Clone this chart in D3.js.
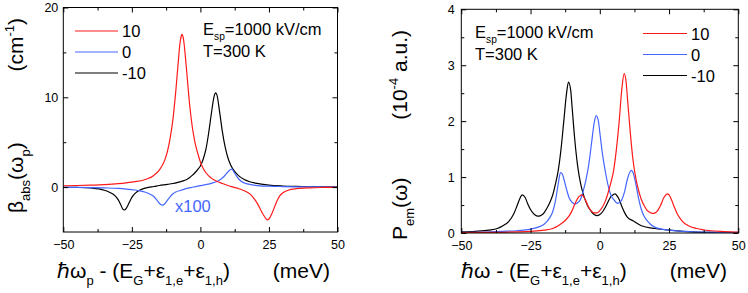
<!DOCTYPE html>
<html><head><meta charset="utf-8">
<script src="https://cdn.jsdelivr.net/npm/d3@7"></script>
<style>
body{margin:0;background:#fff}
svg{display:block}
text{font-family:Arial,"Liberation Sans",Helvetica,sans-serif;fill:#000}
</style>
</head><body>
<svg id="c" width="748" height="293"></svg>
<script>
// ---------- data ----------
const seriesLabels = ["10", "0", "-10"];
const xTickValues = [-50, -25, 0, 25, 50];
const xMinorTickValues = [-37.5, -12.5, 12.5, 37.5];
const absYTickValues = [0, 10, 20];
const absYMinorTickValues = [5, 15];
const emYTickValues = [0, 1, 2, 3, 4];
const emYMinorTickValues = [0.5, 1.5, 2.5, 3.5];

// Absorption beta_abs (cm^-1); series "0" is shown x100
const absRed = [[-50,0.15],[-45,0.18],[-40,0.22],[-35,0.28],[-30,0.38],[-25,0.55],[-20,0.85],[-17,1.3],[-15,1.9],[-13,3.0],[-12,4.0],[-11,5.5],[-10,7.6],[-9,10.6],[-8,14.2],[-7.5,15.9],[-7,16.8],[-6.7,17.0],[-6.3,16.7],[-6,16.1],[-5.5,14.6],[-5,12.9],[-4,9.4],[-3,6.8],[-2,5.0],[-1,3.8],[0,2.8],[1,2.1],[2,1.6],[4,1.0],[6,0.65],[8,0.4],[10,0.18],[12,0.0],[14,-0.18],[16,-0.4],[18,-0.75],[19,-1.05],[20,-1.45],[21,-1.95],[22,-2.55],[23,-3.1],[24,-3.55],[24.5,-3.65],[25,-3.55],[26,-3.0],[27,-2.25],[28,-1.5],[29,-0.95],[30,-0.65],[32,-0.35],[35,-0.18],[40,-0.08],[45,-0.04],[50,-0.02]];
const absBlue = [[-50,-0.02],[-45,-0.03],[-40,-0.05],[-35,-0.09],[-30,-0.15],[-27,-0.22],[-24,-0.32],[-22,-0.42],[-20,-0.58],[-18,-0.85],[-17,-1.05],[-16,-1.4],[-15,-1.8],[-14,-2.0],[-13,-1.85],[-12,-1.45],[-11,-1.05],[-10,-0.75],[-9,-0.55],[-7,-0.35],[-5,-0.15],[-3,-0.02],[-1,0.1],[0,0.16],[2,0.28],[4,0.42],[6,0.62],[7,0.78],[8,1.02],[9,1.32],[10,1.68],[11,1.95],[11.5,2.0],[12,1.8],[13,1.3],[14,0.9],[15,0.62],[16,0.46],[18,0.3],[20,0.2],[25,0.1],[30,0.06],[40,0.03],[50,0.01]];
const absBlack = [[-50,-0.02],[-45,-0.04],[-40,-0.1],[-37,-0.2],[-35,-0.35],[-33,-0.6],[-31,-1.0],[-30,-1.4],[-29,-2.0],[-28.3,-2.45],[-27.7,-2.55],[-27,-2.35],[-26,-1.75],[-25,-1.15],[-24,-0.75],[-23,-0.5],[-21,-0.2],[-19,-0.03],[-17,0.07],[-15,0.18],[-12,0.3],[-10,0.4],[-8,0.55],[-6,0.72],[-5,0.85],[-4,1.05],[-3,1.3],[-2,1.6],[-1,1.95],[0,2.35],[1,3.1],[2,4.2],[3,6.0],[4,8.2],[5,10.1],[5.5,10.5],[6,10.3],[7,8.4],[8,6.2],[9,4.5],[10,3.3],[11,2.5],[12,1.95],[14,1.25],[16,0.85],[18,0.6],[20,0.45],[25,0.22],[30,0.12],[35,0.07],[40,0.04],[50,0.02]];

// Emission P_em (10^-4 a.u.)
const emRed = [[-50,0.005],[-40,0.01],[-30,0.02],[-25,0.03],[-20,0.05],[-17,0.08],[-15,0.13],[-13,0.2],[-12,0.25],[-11,0.31],[-10,0.4],[-9,0.52],[-8,0.62],[-7,0.67],[-6.5,0.68],[-6,0.66],[-5,0.57],[-4,0.46],[-3,0.39],[-2,0.36],[-1,0.36],[0,0.4],[1,0.47],[2,0.57],[3,0.72],[4,0.9],[5,1.12],[6,1.5],[7,2.0],[8,2.6],[8.8,2.85],[9.5,2.7],[10,2.4],[11,1.8],[12,1.3],[13,0.98],[14,0.76],[15,0.6],[16,0.49],[17,0.41],[18,0.37],[19,0.35],[20,0.36],[21,0.41],[22,0.5],[23,0.62],[24,0.69],[24.5,0.7],[25,0.68],[26,0.58],[27,0.45],[28,0.34],[29,0.26],[30,0.2],[32,0.13],[35,0.08],[40,0.04],[45,0.025],[50,0.015]];
const emBlue = [[-50,0.01],[-40,0.02],[-35,0.03],[-30,0.04],[-25,0.07],[-22,0.11],[-20,0.16],[-18,0.28],[-17,0.38],[-16,0.58],[-15,0.88],[-14.2,1.08],[-13.5,1.05],[-13,0.97],[-12,0.78],[-11,0.62],[-10,0.55],[-9,0.52],[-8,0.54],[-7,0.6],[-6,0.75],[-5,0.95],[-4,1.22],[-3,1.6],[-2,1.98],[-1.3,2.1],[-0.5,2.0],[0,1.8],[1,1.4],[2,1.1],[3,0.85],[4,0.68],[5,0.6],[6,0.54],[6.5,0.53],[7,0.54],[8,0.6],[9,0.75],[10,0.97],[11,1.1],[11.5,1.12],[12,1.08],[13,0.88],[14,0.62],[15,0.42],[16,0.3],[18,0.17],[20,0.1],[25,0.05],[30,0.03],[40,0.015],[50,0.01]];
const emBlack = [[-50,0.02],[-45,0.03],[-40,0.05],[-37,0.08],[-35,0.13],[-33,0.2],[-31,0.35],[-30,0.47],[-29,0.6],[-28,0.68],[-27,0.64],[-26,0.52],[-25,0.42],[-24,0.35],[-23,0.31],[-22,0.3],[-21,0.32],[-20,0.37],[-19,0.45],[-18,0.55],[-17,0.68],[-16,0.88],[-15,1.12],[-14,1.5],[-13,2.0],[-12,2.5],[-11.3,2.7],[-10.5,2.55],[-10,2.25],[-9,1.65],[-8,1.2],[-7,0.9],[-6,0.7],[-5,0.56],[-4,0.45],[-3,0.38],[-2,0.33],[-1,0.31],[0,0.33],[1,0.38],[2,0.46],[3,0.56],[4,0.65],[5,0.69],[5.5,0.7],[6,0.68],[7,0.6],[8,0.47],[9,0.36],[10,0.28],[12,0.22],[15,0.13],[20,0.08],[25,0.05],[30,0.03],[40,0.01],[50,0.005]];

// ---------- styles ----------
const colors = {"10": "#ff1a1a", "0": "#4466ff", "-10": "#000000"};
const svg = d3.select("#c");

function rich(sel, parts, size) {
  let shift = 0;
  parts.forEach(([s, k]) => {
    const target = k === "sub" ? size * 0.32 : k === "sup" ? -size * 0.42 : 0;
    sel.append("tspan").attr("dy", target - shift)
      .attr("font-size", k === "n" ? size : size * 0.62).text(s);
    shift = target;
  });
}

function panel(cfg) {
  const x = d3.scaleLinear().domain([-50, 50]).range([cfg.left, cfg.right]);
  const y = d3.scaleLinear().domain(cfg.yDomain).range([cfg.bottom, cfg.top]);
  const g = svg.append("g");
  const clipId = "clip" + cfg.id;
  svg.append("clipPath").attr("id", clipId).append("rect")
    .attr("x", cfg.left).attr("y", cfg.top)
    .attr("width", cfg.right - cfg.left).attr("height", cfg.bottom - cfg.top);

  const line = d3.line().x(d => x(d[0])).y(d => y(d[1])).curve(d3.curveMonotoneX);
  const cg = g.append("g").attr("clip-path", `url(#${clipId})`);
  cfg.series.forEach(s => {
    cg.append("path").datum(s.data).attr("d", line)
      .attr("fill", "none").attr("stroke", colors[s.name]).attr("stroke-width", 1.2);
  });

  function styleAxis(a) {
    a.select(".domain").remove();
    a.selectAll("line").attr("stroke", "#000");
    a.selectAll("text").attr("font-size", 12.5).attr("font-family", "Arial, 'Liberation Sans', sans-serif");
  }
  // bottom
  g.append("g").attr("transform", `translate(0,${cfg.bottom})`)
    .call(d3.axisBottom(x).tickValues(xTickValues).tickSize(-5).tickPadding(8.5).tickFormat(d3.format("d")))
    .call(styleAxis);
  g.append("g").attr("transform", `translate(0,${cfg.bottom})`)
    .call(d3.axisBottom(x).tickValues(xMinorTickValues).tickSize(-3).tickFormat(""))
    .call(styleAxis);
  // top
  g.append("g").attr("transform", `translate(0,${cfg.top})`)
    .call(d3.axisTop(x).tickValues(xTickValues).tickSize(-5).tickFormat(""))
    .call(styleAxis);
  g.append("g").attr("transform", `translate(0,${cfg.top})`)
    .call(d3.axisTop(x).tickValues(xMinorTickValues).tickSize(-3).tickFormat(""))
    .call(styleAxis);
  // left
  g.append("g").attr("transform", `translate(${cfg.left},0)`)
    .call(d3.axisLeft(y).tickValues(cfg.yTicks).tickSize(-5).tickPadding(cfg.yPad).tickFormat(d3.format("d")))
    .call(styleAxis);
  g.append("g").attr("transform", `translate(${cfg.left},0)`)
    .call(d3.axisLeft(y).tickValues(cfg.yMinor).tickSize(-3).tickFormat(""))
    .call(styleAxis);
  // right
  g.append("g").attr("transform", `translate(${cfg.right},0)`)
    .call(d3.axisRight(y).tickValues(cfg.yTicks).tickSize(-5).tickFormat(""))
    .call(styleAxis);
  g.append("g").attr("transform", `translate(${cfg.right},0)`)
    .call(d3.axisRight(y).tickValues(cfg.yMinor).tickSize(-3).tickFormat(""))
    .call(styleAxis);
  // frame
  g.append("rect").attr("x", cfg.left).attr("y", cfg.top)
    .attr("width", cfg.right - cfg.left).attr("height", cfg.bottom - cfg.top)
    .attr("fill", "none").attr("stroke", "#000").attr("stroke-width", 1);

  // legend
  seriesLabels.forEach((name, i) => {
    const ly = cfg.legY[i];
    g.append("line").attr("x1", cfg.legX1).attr("x2", cfg.legX2).attr("y1", ly).attr("y2", ly)
      .attr("stroke", colors[name]).attr("stroke-width", 1.2);
    g.append("text").attr("x", cfg.legX2 + 4).attr("y", ly + 6).attr("font-size", 16.5).text(name);
  });
  // annotation
  const t1 = g.append("text").attr("x", cfg.annX).attr("y", cfg.annY1);
  rich(t1, [["E", "n"], ["sp", "sub"], ["=1000 kV/cm", "n"]], 16.5);
  g.append("text").attr("x", cfg.annX).attr("y", cfg.annY2).attr("font-size", 16.5).text("T=300 K");

  return {x, y, g};
}

const L = panel({
  id: "L", left: 63.3, right: 337.5, top: 7.5, bottom: 232, yPad: 5,
  yDomain: [-5, 20], yTicks: absYTickValues, yMinor: absYMinorTickValues,
  series: [{name: "-10", data: absBlack}, {name: "0", data: absBlue}, {name: "10", data: absRed}],
  legX1: 75, legX2: 118, legY: [31, 52, 73], annX: 203, annY1: 35, annY2: 57
});
const R = panel({
  id: "R", left: 461.3, right: 738.3, top: 9.3, bottom: 233, yPad: 6.5,
  yDomain: [0, 4], yTicks: emYTickValues, yMinor: emYMinorTickValues,
  series: [{name: "-10", data: emBlack}, {name: "0", data: emBlue}, {name: "10", data: emRed}],
  legX1: 643, legX2: 687, legY: [33.5, 54.5, 75.5], annX: 475, annY1: 38, annY2: 60
});

// x100 label
svg.append("text").attr("x", 175).attr("y", 212).attr("font-size", 16.5)
  .attr("fill", colors["0"]).style("fill", colors["0"]).text("x100");

// axis titles
const TS = 21;
const lx = svg.append("text").attr("x", 57).attr("y", 278);
rich(lx, [["\u210F\u03C9", "n"], ["p", "sub"], [" - (E", "n"], ["G", "sub"], ["+\u03B5", "n"], ["1,e", "sub"], ["+\u03B5", "n"], ["1,h", "sub"], [")", "n"]], TS);
svg.append("text").attr("x", 330).attr("y", 278).attr("text-anchor", "end").attr("font-size", TS).text("(meV)");

const rx = svg.append("text").attr("x", 461).attr("y", 278);
rich(rx, [["\u210F\u03C9 - (E", "n"], ["G", "sub"], ["+\u03B5", "n"], ["1,e", "sub"], ["+\u03B5", "n"], ["1,h", "sub"], [")", "n"]], TS);
svg.append("text").attr("x", 727).attr("y", 278).attr("text-anchor", "end").attr("font-size", TS).text("(meV)");

const ly1 = svg.append("text").attr("transform", "translate(23,213) rotate(-90)");
rich(ly1, [["\u03B2", "n"], ["abs", "sub"], ["(\u03C9", "n"], ["p", "sub"], [")", "n"]], TS);
const ly2 = svg.append("text").attr("transform", "translate(23,18) rotate(-90)").attr("text-anchor", "end");
rich(ly2, [["(cm", "n"], ["-1", "sup"], [")", "n"]], TS);

const ry1 = svg.append("text").attr("transform", "translate(407,240) rotate(-90)");
rich(ry1, [["P", "n"], ["em", "sub"], ["(\u03C9)", "n"]], TS);
const ry2 = svg.append("text").attr("transform", "translate(407,30) rotate(-90)").attr("text-anchor", "end");
rich(ry2, [["(10", "n"], ["-4", "sup"], [" a.u.)", "n"]], TS);
</script>
</body></html>
